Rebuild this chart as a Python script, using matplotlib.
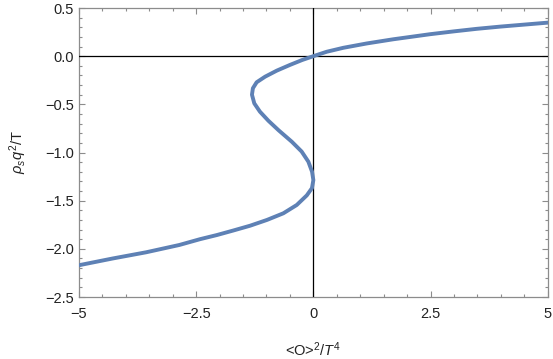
import matplotlib.pyplot as plt
from matplotlib.ticker import MultipleLocator, FixedLocator

plt.rcParams['font.family'] = ['Liberation Sans', 'DejaVu Sans']
plt.rcParams['mathtext.fontset'] = 'custom'
plt.rcParams['mathtext.rm'] = 'Liberation Sans'
plt.rcParams['mathtext.it'] = 'Liberation Sans:italic'

# curve, ordered along the branch (top to bottom)
rho_s = [0.348, 0.307, 0.284, 0.257, 0.228, 0.175, 0.132, 0.087,
         0.046, 0.0, -0.04, -0.091, -0.15, -0.213, -0.271, -0.333, -0.40,
         -0.49, -0.576, -0.67, -0.77, -0.888, -0.99, -1.095, -1.199, -1.286,
         -1.37, -1.445, -1.545, -1.631, -1.70, -1.76, -1.81, -1.857, -1.90,
         -1.96, -2.036, -2.10, -2.17]
cond = [5.0, 3.99, 3.49, 2.99, 2.49, 1.7, 1.14, 0.64,
        0.286, 0.0, -0.24, -0.50, -0.78, -1.03, -1.21, -1.29, -1.31,
        -1.26, -1.14, -0.96, -0.74, -0.46, -0.25, -0.107, -0.028, 0.0,
        -0.03, -0.14, -0.355, -0.64, -0.99, -1.35, -1.71, -2.06, -2.42,
        -2.86, -3.57, -4.28, -5.0]

x_ticks = [-5, -2.5, 0, 2.5, 5]
x_labels = ['\u22125', '\u22122.5', '0', '2.5', '5']
y_ticks = [0.5, 0.0, -0.5, -1.0, -1.5, -2.0, -2.5]
y_labels = ['0.5', '0.0', '\u22120.5', '\u22121.0', '\u22121.5', '\u22122.0', '\u22122.5']

fig = plt.figure(figsize=(5.53, 3.59), dpi=100)
ax = fig.add_axes([0.1429, 0.1727, 0.8475, 0.805])

# zero lines sit above the frame ticks, below the curve
ax.axhline(0, color='black', lw=0.9, zorder=2.7)
ax.axvline(0, color='black', lw=0.9, zorder=2.7)
ax.plot(cond, rho_s, color='#5E81B5', lw=2.8, solid_joinstyle='round', zorder=3)

ax.set_xlim(-5, 5)
ax.set_ylim(-2.5, 0.5)
ax.xaxis.set_major_locator(FixedLocator(x_ticks))
ax.set_xticklabels(x_labels)
ax.yaxis.set_major_locator(FixedLocator(y_ticks))
ax.set_yticklabels(y_labels)
ax.xaxis.set_minor_locator(MultipleLocator(0.5))
ax.yaxis.set_minor_locator(MultipleLocator(0.1))

for s in ax.spines.values():
    s.set_color('#8c8c8c')
    s.set_linewidth(0.9)
ax.tick_params(which='both', direction='in', top=True, right=True,
               color='#8c8c8c', width=0.8, labelsize=10.5, labelcolor='#222222')
ax.tick_params(which='major', length=4.5)
ax.tick_params(which='minor', length=2.5)
ax.tick_params(axis='x', pad=7)
ax.tick_params(axis='y', pad=3.5)

ax.set_xlabel(r'<O>$^{2}$/$T^{4}$', fontsize=10.5, color='#222222', labelpad=14)
ax.set_ylabel(r'$\mathit{\rho}_{s}q^{2}$/T', fontsize=10.5, color='#222222', labelpad=12)

fig.savefig('out.png', dpi=100)
